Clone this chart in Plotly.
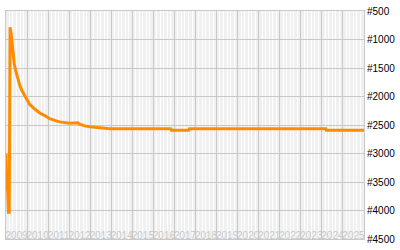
import plotly.graph_objects as go

dates = [
    "2009-01-01", "2009-01-08", "2009-01-15", "2009-01-22", "2009-01-29",
    "2009-02-05", "2009-02-12", "2009-02-26", "2009-03-13", "2009-04-03",
    "2009-04-28", "2009-05-24", "2009-06-19", "2009-07-24", "2009-08-27",
    "2009-10-01", "2009-11-22", "2010-01-14", "2010-02-17", "2010-05-15",
    "2010-08-09", "2010-11-04", "2011-01-30", "2011-04-26", "2011-07-22",
    "2012-01-11", "2012-05-30", "2012-07-02", "2012-09-27", "2012-12-24",
    "2013-06-16", "2013-12-06", "2016-10-28", "2016-11-10", "2017-09-05",
    "2017-09-15", "2024-03-10", "2024-03-20", "2025-12-31",
]
ranks = [
    3000, 3220, 3650, 3400, 3900,
    3700, 4030, 4030, 785, 920,
    1220, 1430, 1550, 1690, 1800,
    1890, 1990, 2100, 2140, 2220,
    2290, 2335, 2390, 2420, 2445,
    2470, 2460, 2485, 2515, 2530,
    2548, 2567, 2567, 2592, 2592,
    2567, 2567, 2592, 2592,
]

y_ticks = [500, 1000, 1500, 2000, 2500, 3000, 3500, 4000, 4500]
y_labels = ["#" + str(v) for v in y_ticks]
x_range = ["2009-01-01", "2026-01-01"]

fig = go.Figure()
fig.add_trace(go.Scatter(
    x=dates, y=ranks, mode="lines",
    line=dict(color="#ff8c00", width=3),
    hoverinfo="skip",
))
# empty helper trace so the label axis is rendered
fig.add_trace(go.Scatter(x=[], y=[], xaxis="x2", yaxis="y",
                         mode="lines", hoverinfo="skip"))

grid = "#c8c8c8"
fig.update_layout(
    width=400, height=250,
    margin=dict(l=6, r=36, t=5, b=5),
    paper_bgcolor="white",
    plot_bgcolor="#f0f0f0",
    showlegend=False,
    xaxis=dict(
        type="date",
        range=x_range,
        tick0="2009-01-01", dtick="M12",
        showticklabels=False,
        ticks="",
        showgrid=True, gridcolor=grid, gridwidth=1,
        minor=dict(dtick="M2", showgrid=True, gridcolor="white", gridwidth=1),
        showline=True, linecolor=grid, linewidth=1, mirror=True,
        zeroline=False,
    ),
    xaxis2=dict(
        type="date",
        overlaying="x",
        anchor="free",
        position=0.05,
        side="bottom",
        range=x_range,
        tick0="2009-01-01", dtick="M12",
        tickformat="%Y",
        ticklabelmode="period",
        ticklabeloverflow="allow",
        tickangle=0,
        ticks="",
        tickfont=dict(family="Liberation Sans", size=10, color=grid),
        showgrid=False, showline=False, zeroline=False,
    ),
    yaxis=dict(
        range=[4500, 500],
        side="right",
        tickvals=y_ticks, ticktext=y_labels,
        ticklabeloverflow="allow",
        ticks="",
        tickfont=dict(family="Liberation Sans", size=10, color="black"),
        showgrid=True, gridcolor=grid, gridwidth=1,
        showline=True, linecolor=grid, linewidth=1, mirror=True,
        zeroline=False,
    ),
)

fig.write_html("out.html")
